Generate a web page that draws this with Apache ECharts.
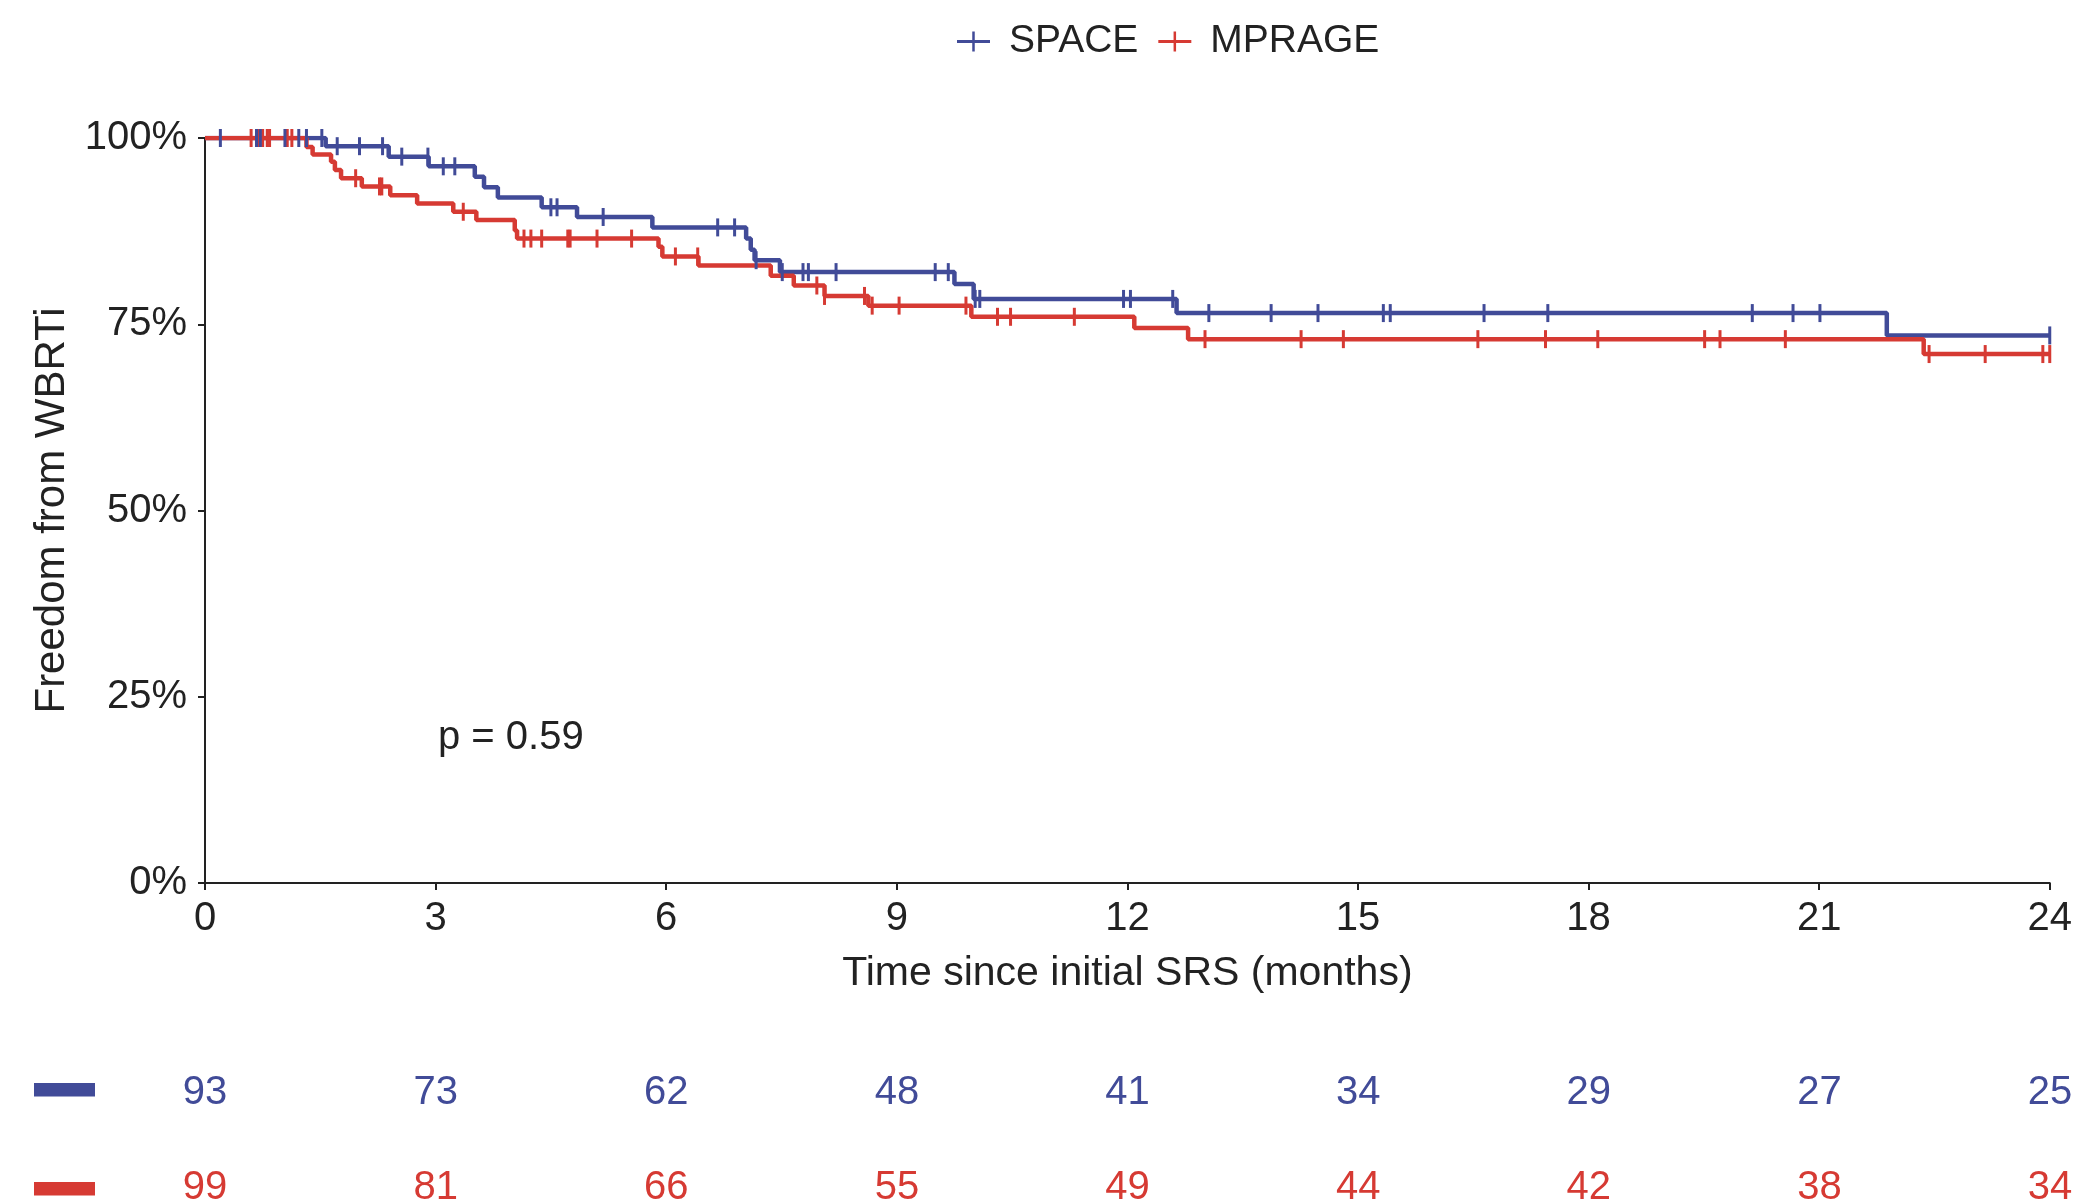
<!DOCTYPE html>
<html>
<head>
<meta charset="utf-8">
<script src="https://cdn.jsdelivr.net/npm/echarts@6/dist/echarts.min.js"></script>
<style>
html,body{margin:0;padding:0;background:#fff;}
#chart{width:2075px;height:1201px;}
</style>
</head>
<body>
<div id="chart"></div>
<script>
// ---- data ----
const seriesNames = ['SPACE', 'MPRAGE'];
const xTicks = [0, 3, 6, 9, 12, 15, 18, 21, 24];

// Kaplan-Meier steps: [month, freedom %] (value holds until next point)
const spaceSteps = [[0,100],[1.57,98.9],[2.39,97.5],[2.91,96.2],[3.51,94.8],[3.63,93.4],[3.81,92.0],[4.38,90.7],[4.84,89.4],[5.82,88.0],[7.04,86.5],[7.10,85.0],[7.15,83.6],[7.48,82.0],[9.75,80.4],[10.00,78.4],[12.64,76.5],[21.88,73.5],[24,73.5]];
const mprageSteps = [[0,100],[1.32,98.8],[1.40,97.8],[1.64,96.8],[1.69,95.7],[1.77,94.6],[2.04,93.5],[2.41,92.3],[2.76,91.2],[3.23,90.1],[3.53,89.0],[4.03,87.6],[4.06,86.5],[5.90,85.4],[5.95,84.1],[6.42,82.9],[7.36,81.5],[7.66,80.2],[8.06,78.8],[8.63,77.5],[9.97,76.0],[12.09,74.5],[12.79,73.0],[22.36,71.0],[24,71.0]];

// censored observations: [month, freedom %]
const spaceCensor = [[0.20,100],[0.67,100],[0.72,100],[1.04,100],[1.22,100],[1.32,100],[1.52,100],[1.72,98.9],[2.01,98.9],[2.31,98.9],[2.56,97.5],[2.90,97.5],[3.10,96.2],[3.25,96.2],[4.50,90.7],[4.58,90.7],[5.18,89.4],[6.67,88.0],[6.89,88.0],[7.17,83.6],[7.51,82.0],[7.78,82.0],[7.85,82.0],[8.21,82.0],[9.50,82.0],[9.67,82.0],[10.02,78.4],[10.08,78.4],[11.95,78.4],[12.04,78.4],[12.59,78.4],[13.06,76.5],[13.87,76.5],[14.48,76.5],[15.33,76.5],[15.42,76.5],[16.64,76.5],[17.47,76.5],[20.13,76.5],[20.66,76.5],[21.01,76.5],[24.0,73.5]];
const mprageCensor = [[0.60,100],[0.70,100],[0.75,100],[0.81,100],[0.84,100],[1.07,100],[1.13,100],[1.96,94.6],[2.27,93.5],[2.30,93.5],[3.36,90.1],[4.15,86.5],[4.24,86.5],[4.38,86.5],[4.72,86.5],[4.75,86.5],[5.10,86.5],[5.55,86.5],[6.12,84.1],[6.41,84.1],[7.96,80.2],[8.06,78.8],[8.58,78.8],[8.68,77.5],[9.03,77.5],[9.90,77.5],[10.31,76.0],[10.48,76.0],[11.31,76.0],[13.01,73.0],[14.26,73.0],[14.81,73.0],[16.56,73.0],[17.44,73.0],[18.12,73.0],[19.51,73.0],[19.71,73.0],[20.56,73.0],[22.43,71.0],[23.16,71.0],[23.91,71.0],[24.0,71.0]];

// numbers at risk at each x tick
const spaceAtRisk = [93, 73, 62, 48, 41, 34, 29, 27, 25];
const mprageAtRisk = [99, 81, 66, 55, 49, 44, 42, 38, 34];
const pText = 'p = 0.59';

// ---- styles ----
const BLUE = '#414B98';
const RED = '#D63A33';
const INK = '#222222';
const FONT = 'Liberation Sans, Arial, Helvetica, sans-serif';

const plusIcon = 'path://M0,8.5h33v3h-33z M15.25,0h2.5v20h-2.5z';
const censorSym = 'path://M0,0h1v10h-1z';

const chart = echarts.init(document.getElementById('chart'), null, {renderer: 'canvas'});

function riskData(arr, row) {
  return arr.map((v, i) => [xTicks[i], row, v]);
}

function riskSeries(arr, row, color) {
  return {
    type: 'scatter', xAxisIndex: 1, yAxisIndex: 1,
    data: riskData(arr, row), symbolSize: 1,
    itemStyle: {opacity: 0},
    label: {show: true, position: 'inside', formatter: p => p.value[2],
            fontSize: 40, color: color, opacity: 1, fontFamily: FONT},
    emphasis: {disabled: true},
    silent: true
  };
}

const option = {
  animation: false,
  backgroundColor: '#fff',
  textStyle: {fontFamily: FONT},
  legend: {
    left: 952,
    top: 17,
    itemWidth: 33,
    itemHeight: 20,
    itemGap: 20,
    textStyle: {fontSize: 39, color: INK, fontFamily: FONT, padding: [0, 0, 0, 14]},
    data: [
      {name: seriesNames[0], icon: plusIcon, itemStyle: {color: BLUE}},
      {name: seriesNames[1], icon: plusIcon, itemStyle: {color: RED}}
    ]
  },
  grid: [
    {left: 205, right: 25, top: 138, height: 745},
    {left: 205, right: 25, top: 1093, height: 95}
  ],
  xAxis: [
    {
      gridIndex: 0, type: 'value', min: 0, max: 24, interval: 3,
      axisLine: {show: true, lineStyle: {color: INK, width: 2}},
      axisTick: {show: true, inside: false, length: 7, lineStyle: {color: INK, width: 2}},
      axisLabel: {fontSize: 40, color: INK, margin: 16, fontFamily: FONT},
      splitLine: {show: false},
      name: 'Time since initial SRS (months)',
      nameLocation: 'middle', nameGap: 70,
      nameTextStyle: {fontSize: 41, color: INK, fontFamily: FONT}
    },
    {
      gridIndex: 1, type: 'value', min: 0, max: 24, interval: 3,
      show: false
    }
  ],
  yAxis: [
    {
      gridIndex: 0, type: 'value', min: 0, max: 100, interval: 25,
      axisLine: {show: true, lineStyle: {color: INK, width: 2}},
      axisTick: {show: true, inside: false, length: 7, lineStyle: {color: INK, width: 2}},
      axisLabel: {fontSize: 40, color: INK, margin: 18, formatter: '{value}%', fontFamily: FONT},
      splitLine: {show: false},
      name: 'Freedom from WBRTi',
      nameLocation: 'middle', nameRotate: 90, nameGap: 130,
      nameTextStyle: {fontSize: 42, color: INK, fontFamily: FONT}
    },
    {
      gridIndex: 1, type: 'value', min: 0, max: 1, show: false
    }
  ],
  series: [
    {
      name: seriesNames[0], type: 'line', step: 'end', data: spaceSteps,
      xAxisIndex: 0, yAxisIndex: 0,
      showSymbol: false, symbol: 'none',
      lineStyle: {color: BLUE, width: 4.5}, itemStyle: {color: BLUE}, z: 2
    },
    {
      name: seriesNames[1], type: 'line', step: 'end', data: mprageSteps,
      xAxisIndex: 0, yAxisIndex: 0,
      showSymbol: false, symbol: 'none',
      lineStyle: {color: RED, width: 4.5}, itemStyle: {color: RED}, z: 3
    },
    {
      name: seriesNames[1], type: 'scatter', data: mprageCensor,
      xAxisIndex: 0, yAxisIndex: 0,
      symbol: censorSym, symbolSize: [3, 18], symbolKeepAspect: false,
      itemStyle: {color: RED, opacity: 1}, z: 4
    },
    {
      name: seriesNames[0], type: 'scatter', data: spaceCensor,
      xAxisIndex: 0, yAxisIndex: 0,
      symbol: censorSym, symbolSize: [3, 18], symbolKeepAspect: false,
      itemStyle: {color: BLUE, opacity: 1}, z: 5
    },
    riskSeries(spaceAtRisk, 1, BLUE),
    riskSeries(mprageAtRisk, 0, RED)
  ],
  graphic: [
    {type: 'text', left: 438, top: 718,
     style: {text: pText, fontSize: 40, fill: INK, fontFamily: FONT}},
    {type: 'rect', shape: {x: 34, y: 1083, width: 61, height: 13.5}, style: {fill: BLUE}},
    {type: 'rect', shape: {x: 34, y: 1182, width: 61, height: 13.5}, style: {fill: RED}}
  ]
};
chart.setOption(option);
</script>
</body>
</html>
